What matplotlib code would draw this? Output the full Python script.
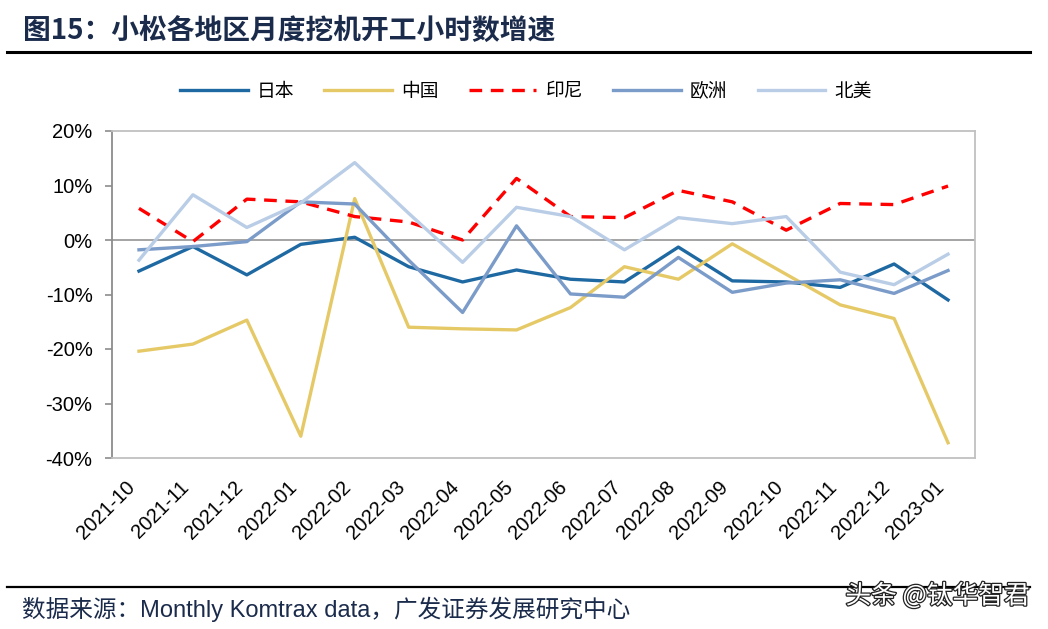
import matplotlib
matplotlib.use('Agg')
import matplotlib.pyplot as plt
import matplotlib.patheffects as pe
import matplotlib.transforms as mtransforms
from matplotlib.lines import Line2D
from matplotlib.ticker import FuncFormatter

plt.rcParams['font.family'] = ['Liberation Sans', 'Noto Sans CJK SC', 'DejaVu Sans']

# 月份
months = ['2021-10', '2021-11', '2021-12', '2022-01', '2022-02', '2022-03',
          '2022-04', '2022-05', '2022-06', '2022-07', '2022-08', '2022-09',
          '2022-10', '2022-11', '2022-12', '2023-01']

# 各地区开工小时数同比增速 (%)
japan = [-5.7, -1.2, -6.4, -0.8, 0.5, -4.9, -7.7, -5.5, -7.2, -7.7, -1.3, -7.5,
         -7.7, -8.7, -4.4, -11.0]
china = [-20.4, -19.1, -14.7, -36.0, 7.6, -16.0, -16.3, -16.5, -12.4, -4.9, -7.2,
         -0.7, -6.3, -11.9, -14.4, -37.2]
indonesia = [5.8, -0.3, 7.5, 7.0, 4.3, 3.3, 0.0, 11.3, 4.3, 4.1, 9.1, 7.0, 1.8,
             6.7, 6.5, 9.9]
europe = [-1.8, -1.2, -0.3, 7.0, 6.6, -3.7, -13.3, 2.6, -9.9, -10.5, -3.2, -9.6,
          -7.9, -7.3, -9.8, -5.6]
north_america = [-3.7, 8.3, 2.3, 6.8, 14.2, 4.9, -4.1, 6.0, 4.3, -1.8, 4.1, 3.0,
                 4.3, -5.9, -8.2, -2.6]

series_names = ['日本', '中国', '印尼', '欧洲', '北美']

W, H = 1048, 629
fig = plt.figure(figsize=(W / 100, H / 100), dpi=100)
ax = fig.add_axes([112 / W, 1 - 458 / H, (975 - 112) / W, (458 - 131) / H])

x = list(range(len(months)))
lw = 2.4
ax.axhline(0, color='#8c8c8c', lw=1.1, zorder=1)
ax.plot(x, japan, color='#1f69a3', lw=lw, label=series_names[0], zorder=3)
ax.plot(x, china, color='#e6c967', lw=lw, label=series_names[1], zorder=3)
ax.plot(x, indonesia, color='#ff0000', lw=lw, dashes=(3.8, 2.6),
        label=series_names[2], zorder=3)
ax.plot(x, europe, color='#7b9bc9', lw=lw, label=series_names[3], zorder=3)
ax.plot(x, north_america, color='#b9cde6', lw=lw, label=series_names[4], zorder=3)

ax.set_xlim(-0.5, len(months) - 0.5)
ax.set_ylim(-40, 20)
ax.set_yticks([20, 10, 0, -10, -20, -30, -40])
ax.yaxis.set_major_formatter(FuncFormatter(lambda v, p: f'{v:.0f}%'))
ax.set_xticks(x)
ax.set_xticklabels(months, rotation=45, ha='right')

# 日期标签稍微右移
shift = mtransforms.ScaledTranslation(6 / 100, 0, fig.dpi_scale_trans)
for lab in ax.get_xticklabels():
    lab.set_transform(lab.get_transform() + shift)

ax.tick_params(axis='y', direction='out', length=5, width=1.2, color='#8c8c8c',
               labelsize=14.5, pad=9)
ax.tick_params(axis='x', length=0, labelsize=14.5, pad=14)

for side in ['top', 'right', 'bottom']:
    ax.spines[side].set_color('#c0c0c0')
    ax.spines[side].set_linewidth(1.3)
ax.spines['left'].set_color('#8c8c8c')
ax.spines['left'].set_linewidth(1.3)

# 图例
fig.legend(loc='center', bbox_to_anchor=(526 / W, 1 - 91 / H), ncol=5,
           frameon=False, handlelength=3.6, handletextpad=0.5,
           columnspacing=1.6, prop={'family': ['Noto Sans CJK SC'], 'size': 13.5})

# 标题和分隔线
navy = '#1b2b4b'
fig.text(23 / W, 1 - 31 / H, '图15：小松各地区月度挖机开工小时数增速',
         fontsize=20, fontweight='bold', color=navy, va='center',
         family=['Noto Sans CJK SC'])
fig.add_artist(Line2D([7 / W, 1030 / W], [1 - 51.5 / H] * 2,
                      transform=fig.transFigure, color='black', lw=2.2))
fig.add_artist(Line2D([7 / W, 1030 / W], [1 - 586.5 / H] * 2,
                      transform=fig.transFigure, color='black', lw=1.6))

fig.text(22 / W, 1 - 609 / H, '数据来源：Monthly Komtrax data，广发证券发展研究中心',
         fontsize=17, color=navy, va='center')

# 水印
fig.text(1030 / W, 1 - 596 / H, '头条 @钛华智君', fontsize=18.5, color='white',
         ha='right', va='center', family=['Noto Sans CJK SC', 'DejaVu Sans'],
         path_effects=[pe.withStroke(linewidth=1.8, foreground='#222222')])

fig.savefig('out.png', dpi=100)
